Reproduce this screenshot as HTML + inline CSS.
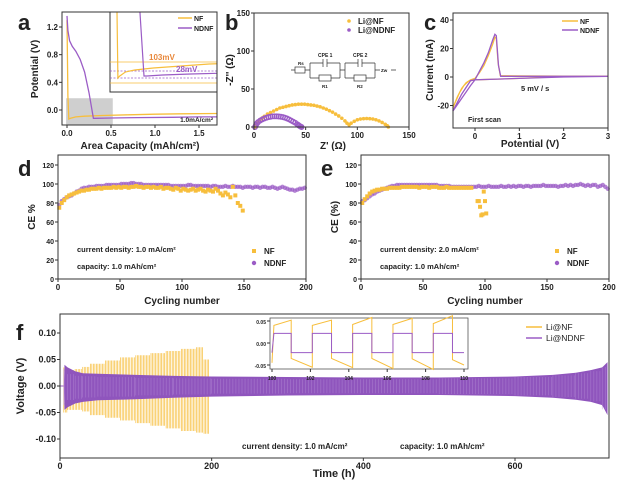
<!DOCTYPE html>
<html><head><meta charset="utf-8"><style>
body{margin:0;background:#fff}
svg{display:block;font-family:"Liberation Sans",sans-serif;font-weight:bold}
text{fill:#222}
</style></head><body>
<svg id="fig" width="628" height="497" viewBox="0 0 628 497" xmlns="http://www.w3.org/2000/svg"></svg>
<script>
const NS="http://www.w3.org/2000/svg";
const YEL="#f7be3c", PUR="#9b5cc6";
// ---- panel a data ----
const aNFx=[0,0.01,0.02,0.04,0.1,0.2,0.4,0.7,1.0,1.3,1.7];
const aNFy=[1.3,0.2,-0.13,-0.12,-0.1,-0.09,-0.08,-0.07,-0.06,-0.055,-0.05];
const aNDx=[0,0.01,0.03,0.06,0.1,0.15,0.2,0.25,0.3,0.33,0.5,0.8,1.2,1.5,1.7];
const aNDy=[1.36,1.15,1.0,0.92,0.85,0.73,0.55,0.25,-0.12,-0.12,-0.115,-0.11,-0.105,-0.1,-0.1];
// ---- panel b data ----
const bNFx=[1,2,4,6,8,10,13,16,19,22,25,28,31,34,37,40,43,46,49,52,55,58,61,64,67,70,73,76,79,82,85,88,90,92,94,97,100,103,106,109,112,115,118,121,124,127,129,130];
const bNFy=[0,4,7,10,12,14,17,19,21,23,25,26,27,28,29,29.5,30,30,30,29.5,29,28.5,27.5,26.5,25,23.5,21.5,19.5,17,14.5,11.5,8,5,3,5,7.5,9.5,10.5,11,11.2,11,10.5,9.5,8,6,3.5,1.5,0];
const bNDx=[1,2,3,4,6,8,10,12,14,16,18,20,22,24,26,28,30,32,34,36,38,40,42,43,44,45,46];
const bNDy=[0,3,5,6.5,8.5,10,11.2,12.2,13,13.5,14,14,14,13.8,13.5,13,12.2,11.2,10,8.5,7,5.5,3.5,2.5,1.5,0.6,0];
// ---- panel c data ----
const cNFv=[-0.5,-0.4,-0.3,-0.2,-0.1,0,0.1,0.2,0.3,0.4,0.45,0.48,0.52,0.57,1,2,3,2,1.7,1,0.5,0,-0.15,-0.25,-0.35,-0.45,-0.5];
const cNFi=[-22,-14,-8,-4,-2,-1,3,8,15,23,28,27,10,1,0.8,0.6,0.6,0.3,0,-1,-1.5,-2,-3,-6,-11,-18,-22];
const cNDv=[-0.5,-0.3,-0.1,0,0.1,0.2,0.3,0.4,0.45,0.48,0.53,0.58,1,2,3,2,1,0.5,0,-0.1,-0.3,-0.5];
const cNDi=[-24,-15,-6,-2,4,10,17,26,30,29,8,0.5,0.5,0.5,0.5,0,-1,-1.5,-2,-2.5,-12,-24];
// ---- panel d data (every 2nd cycle) ----
const dNF=[75,80,83,86,88,89,90,91,92,93,93,94,94,95,95,95,96,95,96,96,96,96,97,96,97,96,97,97,96,97,97,98,97,97,96,97,97,96,97,96,96,97,95,96,96,95,94,96,95,93,95,94,93,94,95,93,94,95,93,92,94,93,92,95,93,90,88,91,89,86,97,88,80,77,72];
const dND=[78,82,84,86,87,88,90,92,93,95,96,96,97,97,97,98,98,98,98,99,99,99,99,99,99,100,100,100,100,101,101,100,100,100,99,99,99,99,99,99,99,99,99,99,99,98,98,98,98,98,98,98,99,99,98,98,98,98,98,98,98,97,98,98,97,97,97,98,97,97,98,97,97,97,96,97,97,97,96,97,97,96,97,97,96,96,97,96,95,96,97,96,95,94,94,93,94,95,95,96];
// ---- panel e data ----
const eNF=[80,84,87,90,92,93,94,94,95,95,95,96,96,96,96,96,97,97,97,97,97,97,97,96,97,97,97,96,97,97,97,96,96,96,97,96,96,96,96,96,96,96,96,96,96];
const eFailCycles=[94,95,96,97,98,99,100,101];
const eFailValues=[82,82,76,67,68,92,82,69];
const eND=[82,83,85,87,89,90,92,93,94,95,96,97,98,98,99,99,99,99,99,99,99,99,99,99,99,99,99,99,99,99,99,98,98,98,98,98,97,97,97,97,97,97,97,97,97,97,97,98,97,97,97,98,97,97,97,97,98,97,97,98,97,98,97,98,98,97,98,98,97,98,98,98,98,99,98,98,98,98,98,97,98,98,99,98,99,98,99,99,100,99,98,99,98,99,99,97,98,99,97,95];
// ---- panel f data ----
const fNFt=[5,10,20,30,40,60,80,100,120,140,160,180,190,197];
const fNFup=[0.0,0.035,0.03,0.032,0.036,0.042,0.048,0.054,0.058,0.062,0.066,0.070,0.073,0.05];
const fNFlo=[-0.06,-0.05,-0.045,-0.045,-0.048,-0.055,-0.06,-0.065,-0.07,-0.075,-0.08,-0.085,-0.088,-0.09];
const fNDt=[5,6,10,20,30,50,100,150,200,300,400,500,600,650,680,700,715,722];
const fNDup=[0,0.04,0.035,0.028,0.024,0.023,0.021,0.019,0.018,0.017,0.016,0.016,0.018,0.021,0.025,0.03,0.035,0.045];
const fNDlo=[0,-0.045,-0.04,-0.033,-0.03,-0.027,-0.025,-0.022,-0.02,-0.018,-0.017,-0.017,-0.019,-0.022,-0.026,-0.03,-0.036,-0.055];
const fInSwitch=[100.1,101.0,102.1,103.1,104.2,105.2,106.3,107.3,108.4,109.4,110];
const fInND=[0.022,-0.022,0.022,-0.022,0.022,-0.022,0.022,-0.022,0.022,-0.022];
const fInNFstart=[0.04,-0.035,0.04,-0.035,0.042,-0.035,0.042,-0.036,0.044,-0.038];
const fInNFend=[0.052,-0.055,0.052,-0.056,0.058,-0.058,0.056,-0.06,0.062,-0.05];

const svg=document.getElementById('fig');
function el(tag,attrs,parent){const e=document.createElementNS(NS,tag);for(const k in attrs)e.setAttribute(k,attrs[k]);(parent||svg).appendChild(e);return e;}
function lin(d0,d1,r0,r1){return v=>r0+(v-d0)*(r1-r0)/(d1-d0);}
function txt(s,x,y,size,parent,anchor,extra){const t=el('text',Object.assign({x:x,y:y,'font-size':size,'text-anchor':anchor||'start'},extra||{}),parent);t.textContent=s;return t;}
function frame(g,x0,y0,x1,y1){const r=el('rect',{x:x0,y:y0,width:x1-x0,height:y1-y0,fill:'none',stroke:'#333','stroke-width':1},g);}
function xAxis(g,sx,ticks,labels,y,size){for(let i=0;i<ticks.length;i++){const l=el('line',{x1:sx(ticks[i]),x2:sx(ticks[i]),y1:y,y2:y+3,stroke:'#333'},g);const t=txt(labels[i],sx(ticks[i]),y+11,size||8,g,'middle');}}
function yAxis(g,sy,ticks,labels,x,size){for(let i=0;i<ticks.length;i++){const l=el('line',{x1:x-3,x2:x,y1:sy(ticks[i]),y2:sy(ticks[i]),stroke:'#333'},g);const t=txt(labels[i],x-4,sy(ticks[i])+3,size||8,g,'end');}}
function poly(g,xs,ys,sx,sy,color,w,dash){const p=xs.map((v,i)=>sx(v).toFixed(1)+','+sy(ys[i]).toFixed(1)).join(' ');return el('polyline',{points:p,fill:'none',stroke:color,'stroke-width':w||1.2,'stroke-dasharray':dash||'none'},g);}

// ===== Panel a =====
{const g=el('g',{});
const sx=lin(0,1.5,67,199), sy=lin(0,1.2,110,27);
const box=el('rect',{x:sx(-0.01),y:sy(0.17),width:sx(0.52)-sx(-0.01),height:125-sy(0.17),fill:'#cfcfcf'},g);
const l1=poly(g,aNFx,aNFy,sx,sy,YEL,1.3);
const l2=poly(g,aNDx,aNDy,sx,sy,PUR,1.3);
// inset
const ix=lin(0.01,0.3,117,144), iy=lin(-0.2,0.2,92,12);
const ib=el('rect',{x:110,y:12,width:107,height:80,fill:'#fff',stroke:'#333'},g);
const h1=el('line',{x1:110,x2:217,y1:iy(-0.05),y2:iy(-0.05),stroke:YEL,'stroke-width':0.8},g);
const h2=el('line',{x1:110,x2:217,y1:iy(-0.155),y2:iy(-0.155),stroke:YEL,'stroke-width':0.8},g);
const h3=el('line',{x1:110,x2:217,y1:iy(-0.095),y2:iy(-0.095),stroke:PUR,'stroke-width':0.8,'stroke-dasharray':'2,1.5'},g);
const h4=el('line',{x1:110,x2:217,y1:iy(-0.13),y2:iy(-0.13),stroke:PUR,'stroke-width':0.8,'stroke-dasharray':'2,1.5'},g);
const cp=el('clipPath',{id:'clipA'},g);el('rect',{x:110,y:12,width:107,height:80},cp);
const ig=el('g',{'clip-path':'url(#clipA)'},g);
const i1=poly(ig,aNFx,aNFy,ix,iy,YEL,1.2);
const i2=poly(ig,aNDx,aNDy,ix,iy,PUR,1.2);
const t1=txt('103mV',149,60,8,g,'start',{style:'fill:#e8873a'});
const t2=txt('28mV',176,72,8,g,'start',{style:'fill:#9b5cc6'});
const lg1=el('line',{x1:178,x2:192,y1:18,y2:18,stroke:YEL,'stroke-width':1.5},g);
const lt1=txt('NF',194,21,7,g);
const lg2=el('line',{x1:178,x2:192,y1:28,y2:28,stroke:PUR,'stroke-width':1.5},g);
const lt2=txt('NDNF',194,31,7,g);
frame(g,62,12,217,125);
xAxis(g,sx,[0,0.5,1,1.5],['0.0','0.5','1.0','1.5'],125);
yAxis(g,sy,[0,0.4,0.8,1.2],['0.0','0.4','0.8','1.2'],62);
const ct=txt('1.0mA/cm²',213,122,6.5,g,'end');
const xt=txt('Area Capacity (mAh/cm²)',140,149,10,g,'middle');
const yt=txt('Potential (V)',0,0,10,g,'middle',{transform:'translate(38,69) rotate(-90)'});
const pl=txt('a',18,30,22,g);}

// ===== Panel b =====
{const g=el('g',{});
const sx=lin(0,150,254,409), sy=lin(0,150,127,13);
for(let i=0;i<bNFx.length;i++){const c=el('circle',{cx:sx(bNFx[i]),cy:sy(bNFy[i]),r:1.8,fill:YEL},g);}
for(let i=0;i<bNDx.length;i++){const c=el('circle',{cx:sx(bNDx[i]),cy:sy(bNDy[i]),r:2.3,fill:'none',stroke:PUR,'stroke-width':1.3},g);}
frame(g,254,13,409,127);
xAxis(g,sx,[0,50,100,150],['0','50','100','150'],127);
yAxis(g,sy,[0,50,100,150],['0','50','100','150'],254);
const c1=el('circle',{cx:349,cy:21,r:1.8,fill:YEL},g);
const lt1=txt('Li@NF',358,24,8,g);
const c2=el('circle',{cx:349,cy:30,r:1.8,fill:PUR},g);
const lt2=txt('Li@NDNF',358,33,8,g);
const cg=el('g',{stroke:'#333','stroke-width':0.7,fill:'none'},g);
el('path',{d:'M291,70 H295 M305,70 H310 M310,63 V78 M340,63 V78 M310,63 H323 M327,63 H340 M310,78 H319 M331,78 H340 M340,70 H345 M345,63 V78 M375,63 V78 M345,63 H358 M362,63 H375 M345,78 H354 M366,78 H375 M375,70 H380 M391,70 H396 M323,59 V67 M327,59 V67 M358,59 V67 M362,59 V67'},cg);
el('rect',{x:295,y:67,width:10,height:6},cg);el('rect',{x:319,y:75,width:12,height:6},cg);el('rect',{x:354,y:75,width:12,height:6},cg);
txt('Rs',298,65,4.5,g);txt('CPE 1',318,57,5,g);txt('R1',322,88,4.5,g);txt('CPE 2',353,57,5,g);txt('R2',357,88,4.5,g);txt('Zw',381,72,4.5,g);
const xt=txt("Z' (Ω)",333,149,10,g,'middle');
const yt=txt("-Z'' (Ω)",0,0,10,g,'middle',{transform:'translate(233,70) rotate(-90)'});
const pl=txt('b',225,30,22,g);}

// ===== Panel c =====
{const g=el('g',{});
const sx=lin(0,3,475,608), sy=lin(0,40,77,20);
const l1=poly(g,cNFv,cNFi,sx,sy,YEL,1.3);
const l2=poly(g,cNDv,cNDi,sx,sy,PUR,1.3);
frame(g,453,13,608,128);
xAxis(g,sx,[0,1,2,3],['0','1','2','3'],128);
yAxis(g,sy,[-20,0,20,40],['-20','0','20','40'],453);
const lg1=el('line',{x1:562,x2:578,y1:21,y2:21,stroke:YEL,'stroke-width':1.5},g);
const lt1=txt('NF',580,24,7,g);
const lg2=el('line',{x1:562,x2:578,y1:30,y2:30,stroke:PUR,'stroke-width':1.5},g);
const lt2=txt('NDNF',580,33,7,g);
const n1=txt('5 mV / s',521,91,7.5,g);
const n2=txt('First scan',468,122,7,g);
const xt=txt('Potential (V)',530,147,10,g,'middle');
const yt=txt('Current (mA)',0,0,10,g,'middle',{transform:'translate(433,70) rotate(-90)'});
const pl=txt('c',424,30,22,g);}

// ===== Panels d & e =====
function cePanel(id,x0,x1,nf,nd,failC,failV,note,ytitle,letter){
const g=el('g',{});
const sx=lin(0,200,x0,x1), sy=lin(0,120,279,165);
for(let i=0;i<nd.length;i++){const c=el('circle',{cx:sx(i*2+1),cy:sy(nd[i]),r:2.2,fill:PUR,'fill-opacity':0.75},g);}
for(let i=0;i<nf.length;i++){const r=el('rect',{x:sx(i*2+1)-2,y:sy(nf[i])-2,width:4,height:4,fill:YEL},g);}
for(let i=0;i<failC.length;i++){const r=el('rect',{x:sx(failC[i])-2,y:sy(failV[i])-2,width:4,height:4,fill:YEL},g);}
frame(g,x0,155,x1,279);
xAxis(g,sx,[0,50,100,150,200],['0','50','100','150','200'],279);
yAxis(g,sy,[0,20,40,60,80,100,120],['0','20','40','60','80','100','120'],x0,7);
const t1=txt(note,x0+19,252,7.5,g);
const t2=txt('capacity: 1.0 mAh/cm²',x0+19,269,7.5,g);
const m1=el('rect',{x:x1-54,y:249,width:4,height:4,fill:YEL},g);
const lt1=txt('NF',x1-42,254,8,g);
const m2=el('circle',{cx:x1-52,cy:263,r:2.2,fill:PUR},g);
const lt2=txt('NDNF',x1-42,266,8,g);
const xt=txt('Cycling number',(x0+x1)/2,304,10,g,'middle');
const yt=txt(ytitle,0,0,10,g,'middle',{transform:'translate('+(x0-23)+',217) rotate(-90)'});
const pl=txt(letter,x0-40,176,22,g);}
cePanel('d',58,306,dNF,dND,[],[],'current density: 1.0 mA/cm²','CE %','d');
cePanel('e',361,609,eNF,eND,eFailCycles,eFailValues,'current density: 2.0 mA/cm²','CE (%)','e');

// ===== Panel f =====
{const g=el('g',{});
const sx=lin(0,600,60,515), sy=lin(0,0.1,386,333);
const base=el('line',{x1:sx(0),x2:sx(6),y1:sy(0),y2:sy(0),stroke:PUR,'stroke-width':1},g);
for(let i=0;i<fNFt.length-1;i++){for(let t=fNFt[i];t<fNFt[i+1];t+=2){const l=el('line',{x1:sx(t),x2:sx(t),y1:sy(fNFup[i+1]),y2:sy(fNFlo[i+1]),stroke:YEL,'stroke-width':0.7},g);}}
let pts=[];for(let i=0;i<fNDt.length;i++)pts.push(sx(fNDt[i]).toFixed(1)+','+sy(fNDup[i]).toFixed(1));for(let i=fNDt.length-1;i>=0;i--)pts.push(sx(fNDt[i]).toFixed(1)+','+sy(fNDlo[i]).toFixed(1));
const band=el('polygon',{points:pts.join(' '),fill:'#8f55bd'},g);
for(let i=0;i<fNDt.length-1;i++){for(let t=fNDt[i];t<fNDt[i+1];t+=4){const l=el('line',{x1:sx(t),x2:sx(t),y1:sy(fNDup[i+1]*0.8),y2:sy(fNDlo[i+1]*0.8),stroke:'#b48ad6','stroke-width':0.4},g);}}
frame(g,60,314,609,458);
xAxis(g,sx,[0,200,400,600],['0','200','400','600'],458,9);
yAxis(g,sy,[-0.1,-0.05,0,0.05,0.1],['-0.10','-0.05','0.00','0.05','0.10'],60,9);
const ix=lin(100,110,272,464), iy=lin(0,0.05,343,321);
const ib=el('rect',{x:270,y:318,width:198,height:51,fill:'#fff',stroke:'#555','stroke-width':0.8},g);
let pNF=[ix(100)+','+iy(-0.045)], pND=[ix(100)+','+iy(-0.022)];
for(let i=0;i<fInND.length;i++){const a=ix(fInSwitch[i]),b=ix(fInSwitch[i+1]);pNF.push(a+','+iy(fInNFstart[i]));pNF.push(b+','+iy(fInNFend[i]));pND.push(a+','+iy(fInND[i]));pND.push(b+','+iy(fInND[i]));}
const in1=el('polyline',{points:pNF.join(' '),fill:'none',stroke:YEL,'stroke-width':1},g);
const in2=el('polyline',{points:pND.join(' '),fill:'none',stroke:PUR,'stroke-width':1},g);
xAxis(g,ix,[100,102,104,106,108,110],['100','102','104','106','108','110'],369,5);
yAxis(g,iy,[-0.05,0,0.05],['-0.05','0.00','0.05'],270,5);
const lg1=el('line',{x1:526,x2:542,y1:327,y2:327,stroke:YEL,'stroke-width':1.5},g);
const lt1=txt('Li@NF',546,330,8.5,g,'start',{'font-weight':'normal'});
const lg2=el('line',{x1:526,x2:542,y1:338,y2:338,stroke:PUR,'stroke-width':1.5},g);
const lt2=txt('Li@NDNF',546,341,8.5,g,'start',{'font-weight':'normal'});
const t1=txt('current density: 1.0 mA/cm²',242,449,8,g);
const t2=txt('capacity: 1.0 mAh/cm²',400,449,8,g);
const xt=txt('Time (h)',334,477,11,g,'middle');
const yt=txt('Voltage (V)',0,0,11,g,'middle',{transform:'translate(24,386) rotate(-90)'});
const pl=txt('f',16,340,22,g);}
</script>
</body></html>
